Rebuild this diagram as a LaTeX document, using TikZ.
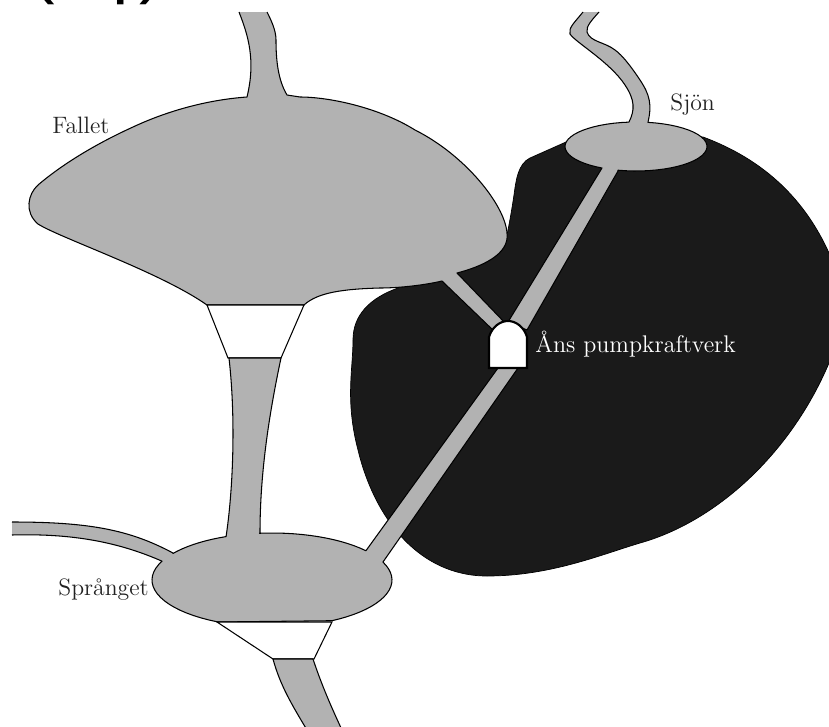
\documentclass[tikz,border=0pt]{standalone}
\usepackage{tikz}
\usepackage{fontspec}
\newfontfamily\rubrikfont{Liberation Sans}
\definecolor{vatten}{HTML}{B2B2B2}
\definecolor{berg}{HTML}{1A1A1A}
\definecolor{text}{HTML}{222222}
\tikzset{
  water/.style={fill=vatten,draw=black,semithick,line join=round},
  plantbox/.style={fill=white,draw=black,line width=1.2pt},
  gate/.style={fill=white,draw=black,semithick},
  namelabel/.style={inner sep=0pt,anchor=base west,text=text,font=\fontsize{13.5}{15}\selectfont},
}
\begin{document}
\begin{tikzpicture}[x=0.02cm,y=-0.02cm]
    \useasboundingbox (0,0) rectangle (829,727);
    % heading, cut off by the page
    \node[inner sep=0pt,anchor=base west,font=\fontsize{42}{50}\selectfont\rubrikfont] (poang) at (30,-11) {(2\hspace{9.6pt}p\hspace{-8pt})};
    % the rock
    \filldraw[fill=berg,draw=black,thin] (566,142) -- (530,158) .. controls (518,164) and (516,180) .. (514,195) .. controls (511,215) and (509,225) .. (506,240) -- (450,260) -- (430,280) -- (398,288)
        .. controls (370,298) and (353,315) .. (353,340) .. controls (353,370) and (345,400) .. (358,450)
        .. controls (375,520) and (420,576) .. (487,576) .. controls (550,576) and (600,555) .. (640,543)
        .. controls (715,522) and (790,455) .. (829,363) .. controls (845,325) and (845,290) .. (829,253)
        .. controls (805,200) and (765,160) .. (703,137) -- cycle;
    % Fallet
    \filldraw[water] (239,12) .. controls (248,35) and (256,60) .. (247,97)
        .. controls (205,100) and (165,112) .. (133,127) .. controls (100,142) and (65,162) .. (38,185)
        .. controls (28,194) and (24,212) .. (38,224)
        .. controls (60,238) and (160,272) .. (207,305) -- (304,305)
        .. controls (318,292) and (345,289) .. (380,288) .. controls (400,288) and (425,285) .. (442,281)
        -- (495,332) -- (507,325) -- (457,273)
        .. controls (480,267) and (510,255) .. (507,233) .. controls (505,205) and (465,155) .. (415,130)
        .. controls (380,108) and (330,97) .. (300,97) -- (287,95)
        .. controls (278,80) and (276,60) .. (276,40) .. controls (276,30) and (271,20) .. (267,12);
    \filldraw[gate] (207,305) -- (228,358) -- (281,358) -- (304,305) -- cycle;
    % Spranget
    \filldraw[water] (12,522) .. controls (90,522) and (130,530) .. (173,553)
        -- plot[domain=214.4:247.5,samples=10] ({272+120*cos(\x)},{580+47*sin(\x)})
        .. controls (233,490) and (236,420) .. (229,358) -- (281,358)
        .. controls (270,410) and (260,470) .. (260,533)
        -- plot[domain=264:321.5,samples=15] ({272+120*cos(\x)},{580+47*sin(\x)})
        -- (498,368) -- (518,368) -- (383,562)
        -- plot[domain=337.7:420,samples=20] ({272+120*cos(\x)},{580+47*sin(\x)})
        -- (217,622)
        -- plot[domain=117.3:203.6,samples=20] ({272+120*cos(\x)},{580+47*sin(\x)})
        .. controls (125,545) and (80,533) .. (12,535);
    \filldraw[gate] (217,622) -- (273,659) -- (314,659) -- (332,622) -- cycle;
    \filldraw[water] (273,659) .. controls (280,685) and (292,705) .. (307,730) -- (342,730) .. controls (328,700) and (320,680) .. (313,659) -- cycle;
    % Sjon
    \filldraw[water] (583,12) .. controls (575,22) and (568,28) .. (570,34) .. controls (575,42) and (610,62) .. (625,85) .. controls (635,100) and (635,110) .. (629,122)
        -- plot[domain=264:118.6,samples=25] ({636+71*cos(\x)},{146.5+24.5*sin(\x)})
        -- (508,322) -- (527,330) -- (618,171)
        -- plot[domain=104.7:-80.3,samples=30] ({636+71*cos(\x)},{146.5+24.5*sin(\x)})
        .. controls (652,105) and (650,95) .. (640,80) .. controls (630,65) and (622,55) .. (615,50) .. controls (605,42) and (590,42) .. (587,32) .. controls (586,26) and (592,20) .. (599,12);
    % the power station
    \filldraw[plantbox] (489,368) -- (489,337) .. controls (492,327) and (500,321) .. (508,321) .. controls (516,321) and (524,327) .. (527,337) -- (527,368) -- cycle;
    %names
    \node[namelabel] (fallet) at (52,133) {Fallet};
    \node[namelabel] (sjon) at (670,110) {Sjön};
    \node[namelabel] (spranget) at (58,595) {Språnget};
    \node[namelabel,text=white,font=\fontsize{13.7}{15}\selectfont] (ans) at (535,352) {Åns pumpkraftverk};
\end{tikzpicture}
\end{document}
